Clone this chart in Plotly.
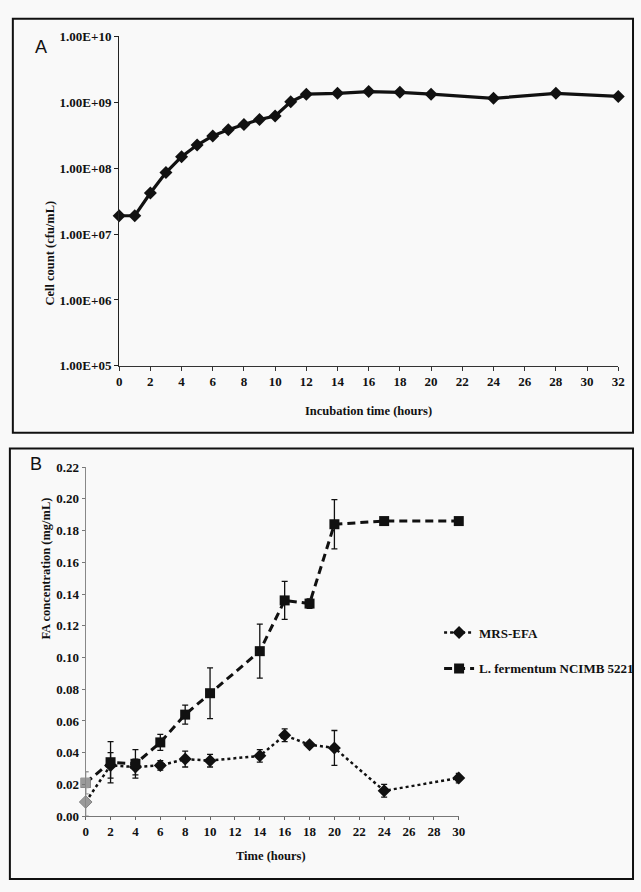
import plotly.graph_objects as go

# ---------------- Data ----------------
# Panel A: growth curve
hours_a = [0, 1, 2, 3, 4, 5, 6, 7, 8, 9, 10, 11, 12, 14, 16, 18, 20, 24, 28, 32]
cell_count = [1.9e7, 1.9e7, 4.2e7, 8.6e7, 1.5e8, 2.25e8, 3.1e8, 3.85e8, 4.6e8, 5.5e8,
              6.2e8, 1.02e9, 1.33e9, 1.37e9, 1.46e9, 1.42e9, 1.33e9, 1.15e9, 1.37e9, 1.23e9]
a_ytickvals = [1e5, 1e6, 1e7, 1e8, 1e9, 1e10]
a_yticktext = ["1.00E+05", "1.00E+06", "1.00E+07", "1.00E+08", "1.00E+09", "1.00E+10"]

# Panel B: FA concentration
hours_b = [0, 2, 4, 6, 8, 10, 14, 16, 18, 20, 24, 30]
mrs_efa = [0.009, 0.032, 0.031, 0.032, 0.036, 0.035, 0.038, 0.051, 0.045, 0.043, 0.016, 0.024]
mrs_efa_err = [0.009, 0.008, 0.005, 0.003, 0.005, 0.004, 0.004, 0.004, 0.001, 0.011, 0.004, 0.003]
ferm = [0.021, 0.034, 0.033, 0.0465, 0.064, 0.0775, 0.104, 0.136, 0.134, 0.184, 0.186, 0.186]
ferm_err = [0.007, 0.013, 0.009, 0.005, 0.006, 0.016, 0.017, 0.012, 0.003, 0.0155, 0.002, 0.002]
series_names = ["MRS-EFA", "L. fermentum NCIMB 5221"]

W, H = 641, 892
def px(x): return x / W
def py(y): return 1 - y / H

SERIF = "Liberation Serif"
BLACK = "#111111"
GREY = "#9a9a9a"

fig = go.Figure()

# Panel A trace
fig.add_trace(go.Scatter(
    x=hours_a, y=cell_count, mode="lines+markers",
    line=dict(color=BLACK, width=3.2),
    marker=dict(symbol="diamond", size=10, color=BLACK),
    xaxis="x", yaxis="y", showlegend=False, cliponaxis=False))

# Panel B traces
err_mrs_main = [0] + mrs_efa_err[1:]
err_ferm_main = [0] + ferm_err[1:]

fig.add_trace(go.Scatter(
    x=hours_b, y=mrs_efa, mode="lines+markers", name=series_names[0],
    line=dict(color=BLACK, width=2.5, dash="dot"),
    marker=dict(symbol="diamond", size=10, color=BLACK),
    error_y=dict(type="data", array=err_mrs_main, color=BLACK, thickness=1.3, width=3),
    xaxis="x2", yaxis="y2", legendgroup="g1", cliponaxis=False))
fig.add_trace(go.Scatter(
    x=hours_b, y=ferm, mode="lines+markers", name=series_names[1],
    line=dict(color=BLACK, width=3, dash="8px,5px"),
    marker=dict(symbol="square", size=10, color=BLACK),
    error_y=dict(type="data", array=err_ferm_main, color=BLACK, thickness=1.3, width=3),
    xaxis="x2", yaxis="y2", legendgroup="g2", cliponaxis=False))
# grey first points with their error bars (drawn on top)
fig.add_trace(go.Scatter(
    x=hours_b[:1], y=mrs_efa[:1], mode="markers",
    marker=dict(symbol="diamond", size=10, color=GREY),
    error_y=dict(type="data", array=mrs_efa_err[:1], color=GREY, thickness=1.3, width=3),
    xaxis="x2", yaxis="y2", showlegend=False, cliponaxis=False))
fig.add_trace(go.Scatter(
    x=hours_b[:1], y=ferm[:1], mode="markers",
    marker=dict(symbol="square", size=10, color=GREY),
    error_y=dict(type="data", array=ferm_err[:1], color=GREY, thickness=1.3, width=3),
    xaxis="x2", yaxis="y2", showlegend=False, cliponaxis=False))

tickfont = dict(family=SERIF, size=13, color=BLACK, weight="bold")

fig.update_layout(
    width=W, height=H, autosize=False,
    margin=dict(l=0, r=0, t=0, b=0),
    paper_bgcolor="#f9f9f9", plot_bgcolor="rgba(0,0,0,0)",
    xaxis=dict(domain=[px(118), px(625)], range=[0, 32], tickmode="array",
               tickvals=list(range(0, 33, 2)), ticks="outside", ticklen=4,
               tickcolor="#333", showline=True, linecolor="#333", linewidth=1,
               showgrid=False, zeroline=False, tickfont=tickfont, anchor="y"),
    yaxis=dict(domain=[py(365), py(30)], type="log", range=[5, 10],
               tickvals=a_ytickvals, ticktext=a_yticktext, ticks="outside", ticklen=4,
               tickcolor="#222", showline=True, linecolor="#222", linewidth=1.2,
               showgrid=False, zeroline=False, tickfont=tickfont, anchor="x"),
    xaxis2=dict(domain=[px(84), px(463)], range=[0, 30], tickmode="array",
                tickvals=list(range(0, 31, 2)), ticks="outside", ticklen=3,
                tickcolor="#666", showline=True, linecolor="#777", linewidth=1,
                showgrid=False, zeroline=False, tickfont=tickfont, anchor="y2"),
    yaxis2=dict(domain=[py(823), py(468)], range=[0, 0.22], dtick=0.02,
                tickformat=".2f", ticks="outside", ticklen=3,
                tickcolor="#777", showline=True, linecolor="#888", linewidth=1,
                showgrid=False, zeroline=False, tickfont=tickfont, anchor="x2"),
    legend=dict(x=px(443), y=py(621), xanchor="left", yanchor="top",
                bgcolor="rgba(0,0,0,0)", tracegroupgap=16,
                font=dict(family=SERIF, size=13, color=BLACK, weight="bold")),
    shapes=[
        dict(type="rect", xref="paper", yref="paper", x0=px(10), x1=px(640),
             y0=py(433), y1=py(12), line=dict(color=BLACK, width=2)),
        dict(type="rect", xref="paper", yref="paper", x0=px(7), x1=px(640),
             y0=py(887), y1=py(449), line=dict(color=BLACK, width=2)),
    ],
    annotations=[
        dict(text="A", x=px(30), y=py(28), xref="paper", yref="paper",
             showarrow=False, font=dict(family="Liberation Sans", size=18, color=BLACK)),
        dict(text="B", x=px(25), y=py(465), xref="paper", yref="paper",
             showarrow=False, font=dict(family="Liberation Sans", size=18, color=BLACK)),
        dict(text="Cell count (cfu/mL)", x=px(39), y=py(195), xref="paper", yref="paper",
             textangle=-90, showarrow=False,
             font=dict(family=SERIF, size=12.5, color=BLACK, weight="bold")),
        dict(text="Incubation time (hours)", x=px(371), y=py(411), xref="paper", yref="paper",
             showarrow=False, font=dict(family=SERIF, size=12.5, color=BLACK, weight="bold")),
        dict(text="FA concentration (mg/mL)", x=px(35), y=py(645), xref="paper", yref="paper",
             textangle=-90, showarrow=False,
             font=dict(family=SERIF, size=12.5, color=BLACK, weight="bold")),
        dict(text="Time (hours)", x=px(272), y=py(873), xref="paper", yref="paper",
             showarrow=False, font=dict(family=SERIF, size=12.5, color=BLACK, weight="bold")),
    ],
)

fig.write_html("out.html", config={"displayModeBar": False},
               post_script="document.body.style.margin='0px';document.body.style.padding='0px';document.body.style.overflow='hidden';")
